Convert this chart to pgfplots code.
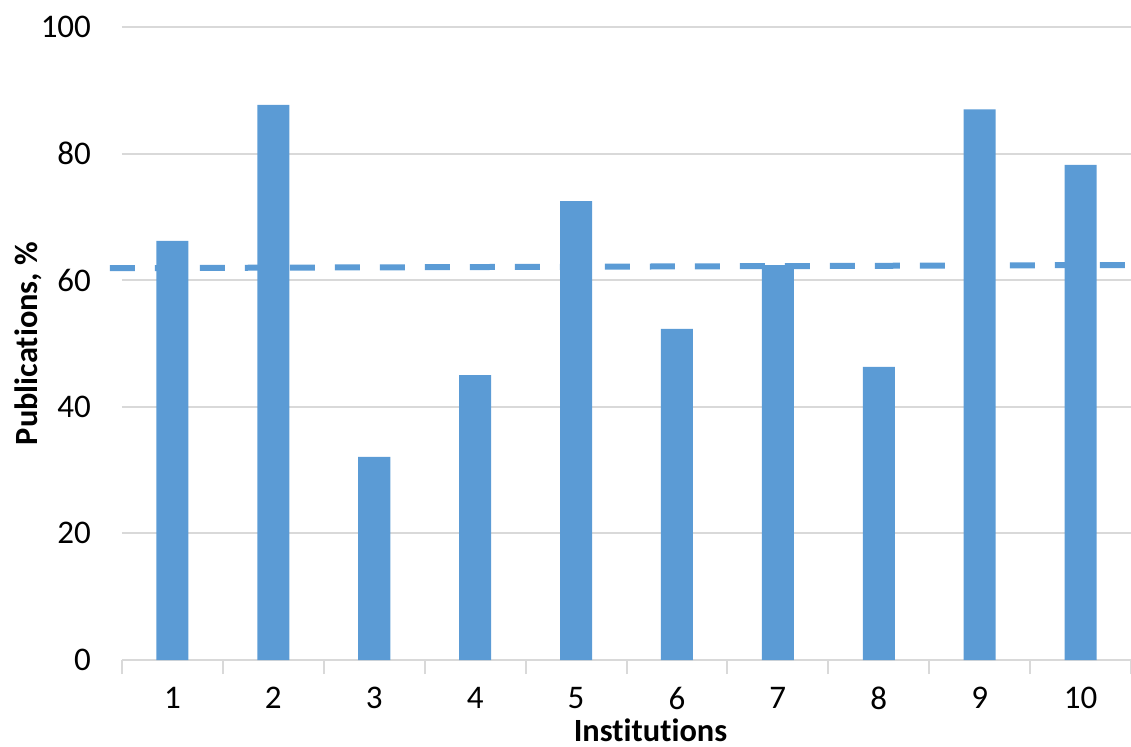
\documentclass[border=0pt]{standalone}
\usepackage{pgfplots}
\pgfplotsset{compat=1.18}
\usepackage{fontspec}
\setmainfont{Carlito}[Ligatures=NoCommon]
\definecolor{barblue}{HTML}{5B9BD5}
\definecolor{gridgray}{HTML}{D9D9D9}
\begin{document}
\begin{tikzpicture}
\useasboundingbox (-61pt,-43pt) rectangle (504.5pt,330pt);
\begin{axis}[
  scale only axis,
  width=504.5pt, height=316.5pt,
  xmin=0.5, xmax=10.5, ymin=0, ymax=100,
  axis x line*=bottom, axis y line*=left,
  x axis line style={gridgray, line width=1pt, -},
  y axis line style={draw=none},
  ytick={0,20,...,100},
  major y tick style={draw=none},
  ymajorgrids, grid style={gridgray, line width=1pt},
  xtick={1,...,10},
  major x tick style={draw=none},
  minor xtick={0.5,1.5,...,10.5},
  minor x tick style={gridgray, line width=1pt},
  minor tick length=7pt,
  xtick align=outside,
  clip=false,
  /pgf/number format/assume math mode=true,
  tick label style={font=\fontsize{16.5}{18}\selectfont},
  yticklabel style={xshift=-12pt},
  xticklabel style={inner sep=0pt, yshift=-9pt},
  ylabel={\textbf{Publications, \%}},
  xlabel={\textbf{Institutions}},
  label style={font=\fontsize{16.2}{19}\selectfont},
  ylabel style={at={(axis description cs:0,0.5)}, anchor=center, yshift=47pt},
  xlabel style={at={(axis description cs:0.5,0)}, anchor=center, inner sep=0pt, yshift=-35pt, xshift=12pt},
]
\addplot[ybar, bar width=16pt, fill=barblue, draw=none] coordinates {
 (1,66.2) (2,87.7) (3,32.1) (4,45.0) (5,72.5) (6,52.3) (7,62.4) (8,46.3) (9,87.0) (10,78.2)
};
\addplot[barblue, line width=3pt, dash pattern=on 12.5pt off 10pt] coordinates {(0.38,61.9) (10.5,62.4)};
\end{axis}
\end{tikzpicture}
\end{document}
